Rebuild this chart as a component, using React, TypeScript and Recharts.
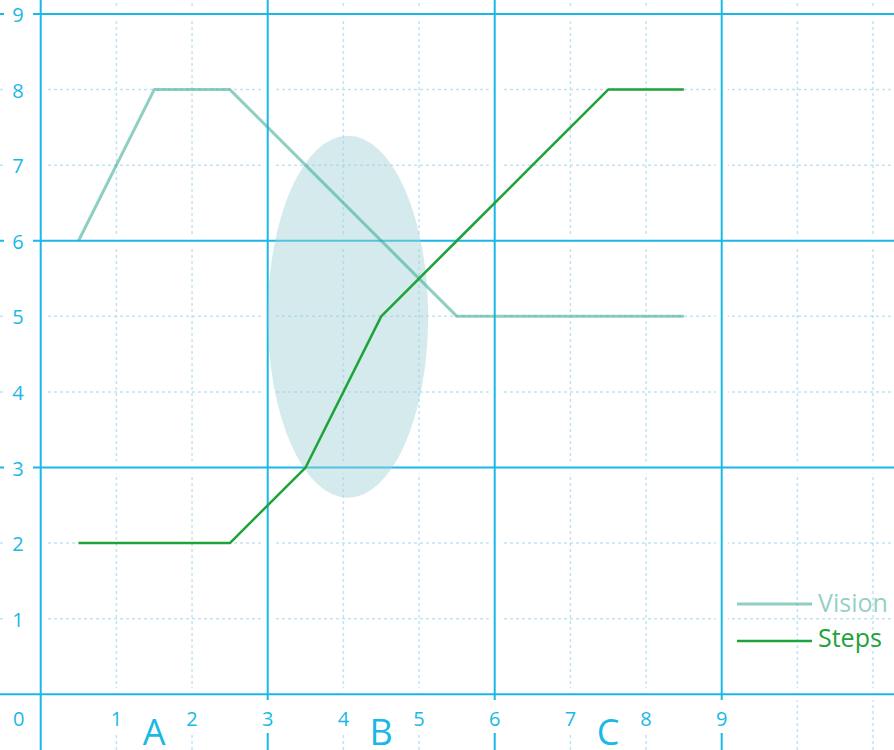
import React from 'react';
import {
  LineChart,
  Line,
  XAxis,
  YAxis,
  ReferenceLine,
  ReferenceArea
} from 'recharts';

const xValues = [0.5, 1.5, 2.5, 3.5, 4.5, 5.5, 6.5, 7.5, 8.5];
const visionValues = [6, 8, 8, 7, 6, 5, 5, 5, 5];
const stepsValues = [2, 2, 2, 3, 5, 6, 7, 8, 8];

const xTicks = [0, 1, 2, 3, 4, 5, 6, 7, 8, 9];
const yTicks = [1, 2, 3, 4, 5, 6, 7, 8, 9];
const categories = ['A', 'B', 'C'];
const categoryCenters = [1.5, 4.5, 7.5];

const majorX = [0, 3, 6, 9];
const majorY = [0, 3, 6, 9];
const minorX = [1, 2, 4, 5, 7, 8, 10, 11];
const minorY = [1, 2, 4, 5, 7, 8];

const data = xValues.map((x, i) => ({
  x,
  Vision: visionValues[i],
  Steps: stepsValues[i]
}));

const allXTicks = [...xTicks, ...categoryCenters].sort((a, b) => a - b);

const AXIS = '#1ab8e6';
const MINOR = '#bfe3f5';
const VISION = '#33a890';
const VISION_OPACITY = 0.55;
const STEPS = '#1ea23a';
const FONT = '"Open Sans", "Noto Sans", sans-serif';

const XTick = (props: any) => {
  const { x, y, payload } = props;
  const v = payload.value;
  const catIndex = categoryCenters.indexOf(v);
  if (catIndex >= 0) {
    return (
      <text x={x} y={y - 5} textAnchor="middle" fill={AXIS} fontSize={36} fontFamily={FONT}>
        {categories[catIndex]}
      </text>
    );
  }
  const cx = v === 0 ? x - 22 : x;
  return (
    <g>
      <rect x={cx - 8} y={y - 50} width={16} height={33} fill="#fff" />
      <text x={cx} y={y - 24} textAnchor="middle" fill={AXIS} fontSize={20} fontFamily={FONT}>
        {v}
      </text>
    </g>
  );
};

const YTick = (props: any) => {
  const { x, y, payload } = props;
  const cx = x + 18;
  return (
    <g>
      <rect x={cx - 14} y={y - 11} width={29} height={22} fill="#fff" />
      <text x={cx} y={y + 8} textAnchor="middle" fill={AXIS} fontSize={20} fontFamily={FONT}>
        {payload.value}
      </text>
    </g>
  );
};

const Ellipse = (props: any) => {
  const { x, y, width, height } = props;
  return (
    <ellipse
      cx={x + width / 2}
      cy={y + height / 2}
      rx={width / 2}
      ry={height / 2}
      fill="#9fd0d8"
      fillOpacity={0.45}
    />
  );
};

const ChartLegend = () => (
  <svg width={160} height={80} style={{ position: 'absolute', left: 736, top: 585 }}>
    <line x1={1} y1={19} x2={76} y2={19} stroke={VISION} strokeOpacity={VISION_OPACITY} strokeWidth={3} />
    <text x={82} y={27} fill={VISION} fillOpacity={VISION_OPACITY} fontSize={25} fontFamily={FONT}>
      Vision
    </text>
    <line x1={1} y1={56} x2={76} y2={56} stroke={STEPS} strokeWidth={2.5} />
    <text x={82} y={62} fill={STEPS} fontSize={25} fontFamily={FONT}>
      Steps
    </text>
  </svg>
);

export default function App() {
  return (
    <div style={{ position: 'absolute', left: 0, top: 0, width: 894, height: 750, background: '#fff', overflow: 'hidden' }}>
      <LineChart width={894} height={750} data={data} margin={{ top: 0, right: 0, bottom: -1, left: -1 }}>
        <XAxis
          dataKey="x"
          type="number"
          domain={[-0.538, 11.277]}
          allowDataOverflow
          ticks={allXTicks}
          interval={0}
          height={1}
          tickSize={0}
          tickMargin={0}
          axisLine={false}
          tickLine={false}
          tick={<XTick />}
        />
        <YAxis
          type="number"
          domain={[-0.737, 9.185]}
          allowDataOverflow
          ticks={yTicks}
          interval={0}
          width={1}
          tickSize={0}
          tickMargin={0}
          axisLine={false}
          tickLine={false}
          tick={<YTick />}
        />
        {minorX.map((v) => (
          <ReferenceLine key={`mx${v}`} x={v} stroke={MINOR} strokeWidth={1.5} strokeDasharray="3 3" zIndex={1} />
        ))}
        {minorY.map((v) => (
          <ReferenceLine key={`my${v}`} y={v} stroke={MINOR} strokeWidth={1.5} strokeDasharray="3 3" zIndex={1} />
        ))}
        {majorX.map((v) => (
          <ReferenceLine key={`hx${v}`} x={v} stroke="#ffffff" strokeWidth={12} zIndex={2} />
        ))}
        {majorY.map((v) => (
          <ReferenceLine key={`hy${v}`} y={v} stroke="#ffffff" strokeWidth={12} zIndex={2} />
        ))}
        {majorX.map((v) => (
          <ReferenceLine key={`jx${v}`} x={v} stroke={AXIS} strokeWidth={2} zIndex={3} />
        ))}
        {majorY.map((v) => (
          <ReferenceLine key={`jy${v}`} y={v} stroke={AXIS} strokeWidth={2} zIndex={3} />
        ))}
        <ReferenceArea x1={3.0} x2={5.12} y1={2.6} y2={7.39} shape={<Ellipse />} zIndex={4} />
        <Line
          dataKey="Vision"
          type="linear"
          stroke={VISION}
          strokeOpacity={VISION_OPACITY}
          strokeWidth={3}
          strokeLinejoin="round"
          dot={false}
          activeDot={false}
          isAnimationActive={false}
        />
        <Line
          dataKey="Steps"
          type="linear"
          stroke={STEPS}
          strokeWidth={2.5}
          strokeLinejoin="round"
          dot={false}
          activeDot={false}
          isAnimationActive={false}
        />
      </LineChart>
      <ChartLegend />
    </div>
  );
}
